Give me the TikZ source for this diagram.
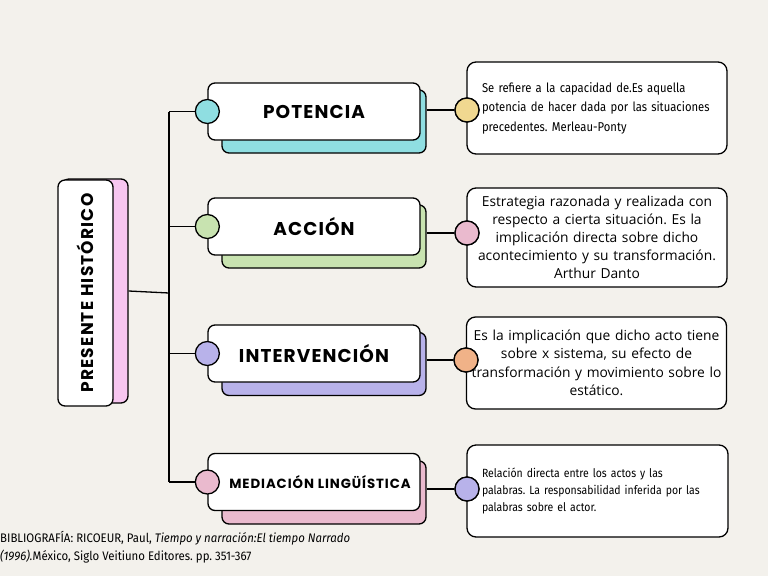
\documentclass[tikz,border=0pt]{standalone}
\usepackage{fontspec}
\setmainfont{Open Sans}
\newfontfamily\titlefont[LetterSpace=6]{Poppins}
\newfontfamily\topicfont[LetterSpace=7]{Poppins}
\newfontfamily\condfont[FakeStretch=0.88]{Fira Sans}
\newfontfamily\bibfont[FakeStretch=0.92]{Fira Sans}
\usetikzlibrary{positioning,calc}
\definecolor{PaperBg}{RGB}{243,241,236}
\definecolor{MainPink}{RGB}{247,198,240}
\definecolor{CyanSoft}{RGB}{143,222,225}
\definecolor{GreenSoft}{RGB}{200,227,176}
\definecolor{LilacSoft}{RGB}{184,178,234}
\definecolor{PinkSoft}{RGB}{234,186,206}
\definecolor{YellowSoft}{RGB}{240,216,144}
\definecolor{PeachSoft}{RGB}{240,178,136}
\frenchspacing

\begin{document}
\begin{tikzpicture}[x=1pt,y=-1pt,
    card/.style={draw=black,line width=1.3pt,rounded corners=7pt,fill=white,
      minimum width=212pt,minimum height=57pt,inner sep=0pt,
      font=\titlefont\bfseries\fontsize{18.5}{20}\selectfont},
    backcard/.style={draw=black,line width=1.3pt,rounded corners=7pt,
      minimum width=204pt,minimum height=63pt},
    dot/.style={circle,draw=black,line width=1.3pt,minimum size=24pt,inner sep=0pt},
    note/.style={draw=black,line width=1.3pt,rounded corners=9pt,fill=white,
      minimum width=260pt,inner xsep=15pt,inner ysep=0pt},
    link/.style={line width=1.3pt}]
  \fill[PaperBg] (0,0) rectangle (768,576);
  \useasboundingbox (0,0) rectangle (768,576);

  % main topic
  \node[draw=black,line width=1.3pt,rounded corners=7pt,fill=MainPink,
    minimum width=66pt,minimum height=224pt] (mainback) at (95,291) {};
  \node[draw=black,line width=1.3pt,rounded corners=7pt,fill=white,
    minimum width=55pt,minimum height=226pt] (main) at (85.5,293) {};
  \node[rotate=90,font=\topicfont\bfseries\fontsize{17}{18}\selectfont] at (main) {PRESENTE HISTÓRICO};

  % branches
  \node[backcard,fill=CyanSoft] (potback) at (324,121.5) {};
  \node[card] (potcard) at (314,111.5) {POTENCIA};
  \node[backcard,fill=GreenSoft] (accback) at (324,236.5) {};
  \node[card] (acccard) at (314,226.5) {ACCIÓN};
  \node[backcard,fill=LilacSoft] (intback) at (324,364) {};
  \node[card] (intcard) at (314,353.5) {INTERVENCIÓN};
  \node[backcard,fill=PinkSoft] (medback) at (324,492.5) {};
  \node[card,font=\topicfont\bfseries\fontsize{13.3}{15}\selectfont] (medcard) at (314,482) {\hspace*{12pt}MEDIACIÓN LINGÜÍSTICA};

  \node[dot,fill=CyanSoft] (potdot) at (potcard.west) {};
  \node[dot,fill=GreenSoft] (accdot) at (acccard.west) {};
  \node[dot,fill=LilacSoft] (intdot) at (intcard.west) {};
  \node[dot,fill=PinkSoft] (meddot) at (medcard.west) {};

  % notes
  \node[note,minimum height=92pt,align=left,text width=230pt,
    font=\condfont\fontsize{12.8}{19.5}\selectfont] (potnote) at (597,108)
    {Se refiere a la capacidad de.Es aquella\\potencia de hacer dada por las situaciones\\precedentes. Merleau-Ponty};
  \node[note,minimum height=99pt,align=center,text width=250pt,inner xsep=5pt,
    font=\fontsize{13.8}{18}\selectfont] (accnote) at (597,237.5)
    {Estrategia razonada y realizada con\\respecto a cierta situación. Es la\\implicación directa sobre dicho\\acontecimiento y su transformación.\\Arthur Danto};
  \node[note,minimum height=92pt,align=center,text width=250pt,inner xsep=5pt,
    font=\fontsize{13.8}{18.5}\selectfont] (intnote) at (596.5,363)
    {Es la implicación que dicho acto tiene\\sobre x sistema, su efecto de\\transformación y movimiento sobre lo\\estático.};
  \node[note,minimum height=92pt,align=left,text width=231pt,
    font=\condfont\fontsize{11.9}{17}\selectfont] (mednote) at (597.5,491)
    {Relación directa entre los actos y las\\palabras. La responsabilidad inferida por las\\palabras sobre el actor.};

  \node[dot,fill=YellowSoft] (potndot) at (467,110) {};
  \node[dot,fill=PinkSoft] (accndot) at (467,233) {};
  \node[dot,fill=PeachSoft] (intndot) at (466,360) {};
  \node[dot,fill=LilacSoft] (medndot) at (467,489) {};

  % connectors
  \coordinate (spine) at (169,293);
  \draw[link] (mainback.east) -- (spine);
  \draw[link] (spine |- potdot) -- (spine |- meddot);
  \foreach \n in {pot,acc,int,med}{
    \draw[link] (spine |- \n dot) -- (\n dot.west);
    \draw[link] (\n ndot.west -| \n back.east) -- (\n ndot.west);
  }
  % redraw note dots over lines
  \node[dot,fill=YellowSoft] at (potndot) {};
  \node[dot,fill=PinkSoft] at (accndot) {};
  \node[dot,fill=PeachSoft] at (intndot) {};
  \node[dot,fill=LilacSoft] at (medndot) {};

  % reference
  \node[anchor=north west,align=left,inner sep=0pt,
    font=\bibfont\fontsize{12.4}{18}\selectfont] (biblio) at (0,531)
    {BIBLIOGRAFÍA: RICOEUR, Paul, \textit{Tiempo y narración:El tiempo Narrado}\\\textit{(1996).}México, Siglo Veitiuno Editores. pp. 351-367};
\end{tikzpicture}
\end{document}
